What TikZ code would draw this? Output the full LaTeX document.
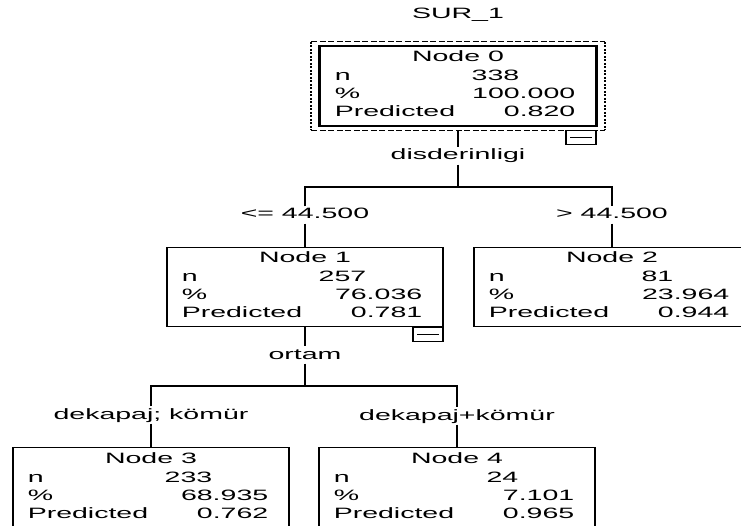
\documentclass[tikz,border=0pt]{standalone}
\usepackage{fontspec}
\setmainfont{Liberation Sans}
\usetikzlibrary{positioning}

\begin{document}
\begin{tikzpicture}[x=1pt,y=-1pt,
  txt/.style={font=\fontsize{15}{15}\selectfont, xscale=1.9, inner sep=0pt},
  lbl/.style={txt, text height=11pt, text depth=3pt, inner ysep=1.5pt, fill=white},
  box/.style={draw, line width=1.2pt, minimum width=276pt, minimum height=79pt, anchor=north, inner sep=0pt},
  edge/.style={line width=1.2pt}]
\useasboundingbox (0,0) rectangle (741,526);
\def\lx{15}
\def\cx{77}
\def\vx{21}

\node[txt] (title) at (458,15) {SUR\_1};

% tree nodes
\foreach \nm/\px/\py/\num/\cnt/\pct/\pred in {n0/458/46/0/338/100.000/0.820, n1/305/247/1/257/76.036/0.781, n2/612/247/2/81/23.964/0.944, n3/151/447/3/233/68.935/0.762, n4/457/447/4/24/7.101/0.965} {
  \node[box] (\nm) at (\px,\py) {};
  \node[txt, anchor=base] (\nm-t) at ([yshift=-16pt]\nm.north) {Node \num};
  \node[txt, anchor=base west] (\nm-nl) at ([xshift=\lx pt,yshift=-35pt]\nm.north west) {n};
  \node[txt, anchor=base west] (\nm-pl) at ([xshift=\lx pt,yshift=-53pt]\nm.north west) {\%};
  \node[txt, anchor=base west] (\nm-rl) at ([xshift=\lx pt,yshift=-71pt]\nm.north west) {Predicted};
  \node[txt, anchor=base east] (\nm-nv) at ([xshift=-\cx pt,yshift=-35pt]\nm.north east) {\cnt};
  \node[txt, anchor=base east] (\nm-pv) at ([xshift=-\vx pt,yshift=-53pt]\nm.north east) {\pct};
  \node[txt, anchor=base east] (\nm-rv) at ([xshift=-\vx pt,yshift=-71pt]\nm.north east) {\pred};
}

% selected root: thick frame and dashed outline
\draw[line width=2.4pt] (n0.north west) rectangle (n0.south east);
\coordinate (o-nw) at ([xshift=-8pt,yshift=4pt]n0.north west);
\coordinate (o-ne) at ([xshift=8pt,yshift=4pt]n0.north east);
\coordinate (o-sw) at ([xshift=-8pt,yshift=-4pt]n0.south west);
\coordinate (o-se) at ([xshift=8pt,yshift=-4pt]n0.south east);
\draw[line width=1pt, dash pattern=on 6pt off 2.5pt] (o-nw) -- (o-ne) (o-sw) -- (o-se);
\draw[line width=2pt, dash pattern=on 2pt off 1.5pt] (o-nw) -- (o-sw) (o-ne) -- (o-se);

% collapse markers
\node[draw, line width=1.2pt, minimum width=30pt, minimum height=14pt, inner sep=0pt, anchor=north east] (m0) at ([yshift=-4pt]n0.south east) {};
\node[draw, line width=1.2pt, minimum width=30pt, minimum height=14pt, inner sep=0pt, anchor=north east] (m1) at (n1.south east) {};
\foreach \m in {m0,m1}
  \draw[line width=1pt] ([xshift=5pt]\m.west) -- ([xshift=-5pt]\m.east);

% split labels
\node[lbl] (s0) at (458,156) {disderinligi};
\node[lbl] (e1) at (305,215) {<= 44.500};
\node[lbl] (e2) at (612,215) {> 44.500};
\node[lbl] (s1) at (305,355) {ortam};
\node[lbl] (e3) at (151,415) {dekapaj; kömür};
\node[lbl] (e4) at (457,416) {dekapaj+kömür};
\coordinate (b0) at (458,187);
\coordinate (b1) at (305,386);
\coordinate (n0b) at ([yshift=-4pt]n0.south);

% connectors
\draw[edge] (n0b) -- (s0.north);
\draw[edge] (s0.south) -- (b0);
\draw[edge] (e1.north) |- (b0) -| (e2.north);
\draw[edge] (e1.south) -- (n1.north);
\draw[edge] (e2.south) -- (n2.north);
\draw[edge] (n1.south) -- (s1.north);
\draw[edge] (s1.south) -- (b1);
\draw[edge] (e3.north) |- (b1) -| (e4.north);
\draw[edge] (e3.south) -- (n3.north);
\draw[edge] (e4.south) -- (n4.north);
\end{tikzpicture}
\end{document}
